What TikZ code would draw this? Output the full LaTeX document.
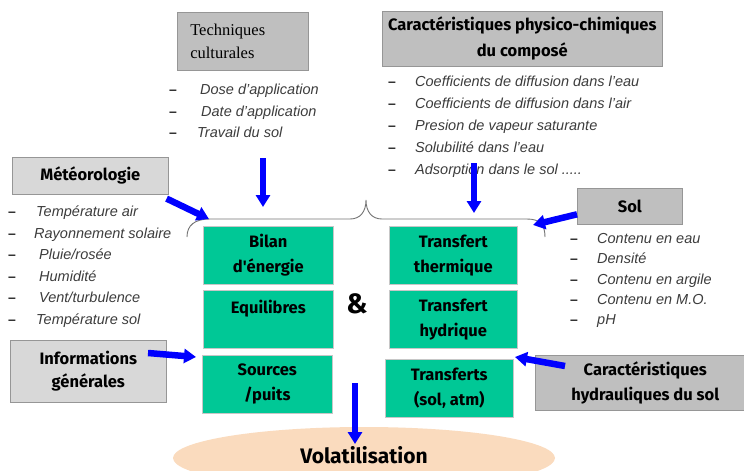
\documentclass[tikz,border=0pt]{standalone}
\usepackage{fontspec}
\setmainfont{Liberation Sans}
\newfontfamily\headfont{Fira Sans}
\newfontfamily\serffont{Liberation Serif}
\usepackage{xcolor}
\usetikzlibrary{arrows.meta,positioning,calc,shapes.geometric}
\definecolor{boxgray}{RGB}{191,191,191}
\definecolor{palegray}{RGB}{216,216,216}
\definecolor{edgegray}{RGB}{150,150,150}
\definecolor{mint}{RGB}{0,200,150}
\definecolor{peach}{RGB}{250,219,190}
\definecolor{listgray}{RGB}{60,60,60}
\definecolor{flowblue}{RGB}{0,0,255}

\begin{document}
\begin{tikzpicture}[
  x=1pt, y=-1pt,
  >={Triangle[length=12pt,width=14pt]},
  factor/.style={draw=edgegray, line width=0.6pt, fill=#1, inner sep=0pt, anchor=north west, align=center, font=\headfont\bfseries\fontsize{16.5}{25}\selectfont},
  proc/.style={draw=black!22, line width=0.6pt, fill=mint, inner sep=0pt, anchor=north west, align=center, minimum width=130pt, minimum height=58pt, font=\headfont\bfseries\fontsize{16.5}{25}\selectfont},
  bullet/.style={anchor=base west, inner sep=0pt, font=\bfseries\fontsize{14}{14}\selectfont, text=black!85},
  entry/.style={anchor=base west, inner sep=0pt, font=\itshape\fontsize{14.5}{14.5}\selectfont, text=listgray},
  flow/.style={->, draw=flowblue, line width=6.5pt},
  bracket/.style={draw=black!55, line width=0.9pt}
]
\useasboundingbox (0,0) rectangle (744,471);

% Volatilisation (drawn first, the page cuts its lower half)
\node[ellipse, fill=peach, inner sep=0pt, minimum width=382pt, minimum height=62pt] (vol) at (364,458) {};
\node[font=\headfont\bfseries\fontsize{21}{21}\selectfont, anchor=base, inner sep=0pt] (voltext) at (364,463) {Volatilisation};

% Factor boxes
\node[factor=boxgray, minimum width=131pt, minimum height=58pt, text width=105pt, align=left, font=\serffont\fontsize{16.5}{23}\selectfont] (tech) at (177,12) {Techniques\\culturales};
\node[factor=boxgray, minimum width=280pt, minimum height=55pt, font=\headfont\bfseries\fontsize{16.5}{26}\selectfont] (phys) at (382,11) {Caractéristiques physico-chimiques\\du composé};
\node[factor=palegray, minimum width=156pt, minimum height=37pt] (meteo) at (12,157) {Météorologie};
\node[factor=boxgray, minimum width=105pt, minimum height=36pt] (sol) at (577,188) {Sol};
\node[factor=palegray, minimum width=156pt, minimum height=62pt, font=\headfont\bfseries\fontsize{16.5}{23}\selectfont] (info) at (10,340) {Informations\\générales};
\node[factor=boxgray, minimum width=220pt, minimum height=55pt] (hydr) at (535,355) {Caractéristiques\\hydrauliques du sol};

% Process boxes
\node[proc] (bilan) at (203,226) {Bilan\\d'énergie};
\node[proc] (equil) at (203,290) {Equilibres\\~};
\node[proc] (sources) at (202,355) {Sources\\/puits};
\node[proc, minimum width=128pt] (ttherm) at (389,226) {Transfert\\thermique};
\node[proc, minimum width=128pt] (thydr) at (389,290) {Transfert\\hydrique};
\node[proc, minimum width=128pt] (tsolatm) at (385,359) {Transferts\\(sol, atm)};
\node[font=\headfont\bfseries\fontsize{28}{28}\selectfont, inner sep=0pt] (amp) at (357,304) {\&};

% Lists
\foreach \n/\y/\x/\t in {t1/94/200/{Dose d'application}, t2/116/201/{Date d'application}, t3/137/197/{Travail du sol}}{
  \node[bullet] (d\n) at (169,\y) {–};
  \node[entry] (\n) at (\x,\y) {\t};
}
\foreach \n/\y/\t in {p1/86/{Coefficients de diffusion dans l'eau}, p2/108/{Coefficients de diffusion dans l'air}, p3/130/{Presion de vapeur  saturante}, p4/152/{Solubilité dans l'eau}, p5/174/{Adsorption dans le sol .....}}{
  \node[bullet] (d\n) at (388,\y) {–};
  \node[entry] (\n) at (415,\y) {\t};
}
\foreach \n/\y/\x/\t in {m1/216/36/{Température  air}, m2/238/34/{Rayonnement  solaire}, m3/259/39/{Pluie/rosée}, m4/281/39/{Humidité}, m5/302/39/{Vent/turbulence}, m6/324/36/{Température  sol}}{
  \node[bullet] (d\n) at (8,\y) {–};
  \node[entry] (\n) at (\x,\y) {\t};
}
\foreach \n/\y/\t in {s1/243/{Contenu  en eau}, s2/263/{Densité}, s3/284/{Contenu  en argile}, s4/304/{Contenu  en M.O.}, s5/324/{pH}}{
  \node[bullet] (d\n) at (570,\y) {–};
  \node[entry] (\n) at (597,\y) {\t};
}

% Brace over the processes
\coordinate (braceL) at (187,237);
\coordinate (braceR) at (545,237);
\draw[bracket] (braceL) .. controls (187,225) and (195,219) .. (210,219) -- (350,219)
  .. controls (360,219) and (366,212) .. (366,200)
  .. controls (366,212) and (372,219) .. (382,219) -- (527,219)
  .. controls (540,219) and (545,225) .. (braceR);

% Arrow ends
\coordinate (techIn) at (263,158);
\coordinate (techOut) at (263,207);
\coordinate (physIn) at (474,163);
\coordinate (physOut) at (474,213);
\coordinate (meteoOut) at (209,219);
\coordinate (solOut) at (533,225);
\coordinate (infoIn) at (148,353);
\coordinate (infoOut) at (196,357);
\coordinate (hydrIn) at (565,366);
\coordinate (hydrOut) at (515,357);
\coordinate (volIn) at (355,383);
\coordinate (volOut) at (355,444);

% Arrows
\draw[flow] (techIn) -- (techOut);
\draw[flow] (physIn) -- (physOut);
\draw[flow] ([xshift=-2pt,yshift=-4pt]meteo.south east) -- (meteoOut);
\draw[flow] ([yshift=-8pt]sol.west) -- (solOut);
\draw[flow] (infoIn) -- (infoOut);
\draw[flow] (hydrIn) -- (hydrOut);
\draw[flow] (volIn) -- (volOut);

\end{tikzpicture}
\end{document}
